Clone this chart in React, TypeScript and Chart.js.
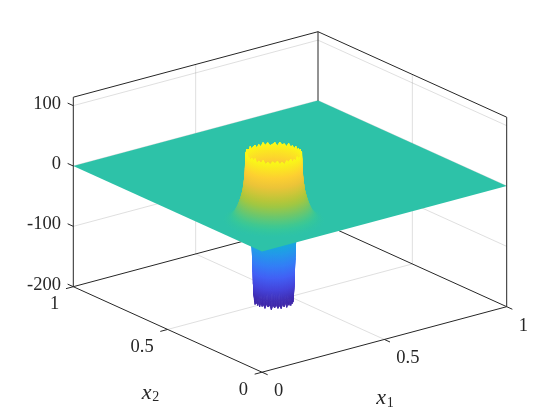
import React, { useEffect, useRef } from "react";
import { Chart, registerables, ScatterController } from "chart.js";

Chart.register(...registerables);

// ---------- values ----------
const zTicks = [100, 0, -100, -200];
const zTickLabels = ["100", "0", "-100", "-200"];
const x1Ticks = [0, 0.5, 1];
const x1TickLabels = ["0", "0.5", "1"];
const x2Ticks = [0, 0.5, 1];
const x2TickLabels = ["0", "0.5", "1"];
const zMin = -200;
const zMax = 114;

// centre of the feature on the (x1, x2) plane
const centreX1 = 0.21;
const centreX2 = 0.21;

// radial profile, from the flat plane inward over the rim and down the inner wall
const ringRadius = [
  0.165, 0.155, 0.145, 0.135, 0.127, 0.12, 0.114, 0.109, 0.104, 0.1, 0.097, 0.094, 0.092,
  0.091, 0.09, 0.086, 0.082, 0.079, 0.076, 0.074, 0.072, 0.07, 0.0685, 0.067, 0.066, 0.064, 0.062,
];
const ringHeight = [
  0, 1, 3, 7, 12, 18, 25, 32, 40, 48, 58, 70, 85, 100, 110, 100, 85, 60, 30, 0, -25, -45, -65,
  -85, -105, -123, -133,
];
const topRingIndex = 14;
const bottomRingIndex = 26;

// rim roughness round the circle, one value per 5 degrees
const topRimJag = [
  2, -3, 1, -2, 3, -3, 1, -1, 3, -4, 2, -1, -3, 2, -2, 3, -3, 1, -4, 2, 0, -3, 3, -2, 1, -3, 3, -1,
  1, -4, 2, -3, 3, -2, 0, -3, 2, -1, 3, -4, 1, -2, 3, -3, 1, -3, 2, -1, 3, -3, 1, -4, 2, -1, 3, -3,
  1, -3, 3, -2, 0, -4, 2, -1, 3, -3, 1, -2, 2, -3, 1, -3,
];
const bottomRimJag = [
  -1, 2, -2, 1, -4, 2, -1, 2, -4, 1, -2, 3, -1, -4, 2, -3, 2, -5, 1, -2, 3, -3, 1, -4, 2, -1, 2, -4,
  1, -3, 2, -5, 1, -2, 3, -3, 1, -4, 2, -2, 1, -4, 3, -1, 2, -5, 1, -2, 2, -3, 1, -4, 2, -2, 3, -4,
  1, -2, 2, -4, 1, -3, 2, -1, 2, -4, 1, -3, 2, -3, 1, -2,
];

// parula colour map stops
const parulaStops = [
  [0.2422, 0.1504, 0.6603],
  [0.281, 0.3228, 0.9579],
  [0.1786, 0.5289, 0.9682],
  [0.0689, 0.6948, 0.8394],
  [0.2161, 0.7843, 0.5923],
  [0.672, 0.7793, 0.2227],
  [0.997, 0.7659, 0.2199],
  [0.9769, 0.9839, 0.0805],
];
const colourMin = -128;
const colourMax = 112;

// ---------- the 3-D view, an orthographic projection ----------
const originPx = 262;
const originPy = 372.2;
const x1Vec = [244.7, -65.5];
const x2Vec = [-188.7, -85.5];
const zScale = 0.6035;

type P = { x: number; y: number };
const project = (a: number, b: number, z: number): P => ({
  x: originPx + x1Vec[0] * a + x2Vec[0] * b,
  y: originPy + x1Vec[1] * a + x2Vec[1] * b - (z - zMin) * zScale,
});
const depth = (a: number, b: number, z: number) => -0.572 * a - 0.745 * b + 0.000726 * z;

const colourAt = (z: number) => {
  const t = Math.max(0, Math.min(1, (z - colourMin) / (colourMax - colourMin))) * (parulaStops.length - 1);
  const i = Math.min(parulaStops.length - 2, Math.floor(t));
  const f = t - i;
  const c = parulaStops[i].map((v, k) => Math.round(255 * (v + (parulaStops[i + 1][k] - v) * f)));
  return `rgb(${c[0]},${c[1]},${c[2]})`;
};

// ---------- surface mesh ----------
const angleCount = topRimJag.length;
const meshPoints: P[] = [];
const meshHeight: number[] = [];
const meshA: number[] = [];
const meshB: number[] = [];
ringRadius.forEach((r, i) => {
  for (let j = 0; j < angleCount; j++) {
    const th = (2 * Math.PI * j) / angleCount;
    let z = ringHeight[i];
    if (i === topRingIndex) z += topRimJag[j];
    if (i === bottomRingIndex) z += bottomRimJag[j];
    const a = centreX1 + r * Math.cos(th);
    const b = centreX2 + r * Math.sin(th);
    meshPoints.push(project(a, b, z));
    meshHeight.push(z);
    meshA.push(a);
    meshB.push(b);
  }
});
const planeStart = meshPoints.length;
[
  [0, 0],
  [1, 0],
  [1, 1],
  [0, 1],
].forEach(([a, b]) => meshPoints.push(project(a, b, 0)));

type Quad = { v: number[]; d: number; low: boolean };
const meshQuads: Quad[] = [];
for (let i = 0; i < ringRadius.length - 1; i++) {
  for (let j = 0; j < angleCount; j++) {
    const j2 = (j + 1) % angleCount;
    const v = [i * angleCount + j, i * angleCount + j2, (i + 1) * angleCount + j2, (i + 1) * angleCount + j];
    const mean = (arr: number[]) => v.reduce((s, k) => s + arr[k], 0) / 4;
    const mz = mean(meshHeight);
    meshQuads.push({ v, d: depth(mean(meshA), mean(meshB), mz), low: i > topRingIndex && mz < 0 });
  }
}
meshQuads.sort((p, q) => p.d - q.d);

class SurfaceController extends ScatterController {
  static id = "surface3d";
  static defaults = ScatterController.defaults;
  static overrides = ScatterController.overrides;
  draw() {
    const ctx: CanvasRenderingContext2D = (this as any).chart.ctx;
    const pts: P[] = (this as any).getMeta().data;
    const paintQuad = (q: Quad) => {
      const [a, b, c, d] = q.v;
      const z0 = (meshHeight[a] + meshHeight[b]) / 2;
      const z1 = (meshHeight[c] + meshHeight[d]) / 2;
      const x0 = (pts[a].x + pts[b].x) / 2;
      const y0 = (pts[a].y + pts[b].y) / 2;
      const x1 = (pts[c].x + pts[d].x) / 2;
      const y1 = (pts[c].y + pts[d].y) / 2;
      let style: any = colourAt((z0 + z1) / 2);
      if (Math.hypot(x1 - x0, y1 - y0) > 0.05) {
        const g = ctx.createLinearGradient(x0, y0, x1, y1);
        g.addColorStop(0, colourAt(z0));
        g.addColorStop(1, colourAt(z1));
        style = g;
      }
      ctx.fillStyle = style;
      ctx.strokeStyle = style;
      ctx.beginPath();
      ctx.moveTo(pts[a].x, pts[a].y);
      ctx.lineTo(pts[b].x, pts[b].y);
      ctx.lineTo(pts[c].x, pts[c].y);
      ctx.lineTo(pts[d].x, pts[d].y);
      ctx.closePath();
      ctx.fill();
      ctx.stroke();
    };
    ctx.save();
    ctx.lineWidth = 0.8;
    ctx.lineJoin = "round";
    meshQuads.filter((q) => q.low).forEach(paintQuad);
    // flat plane, then everything that rises out of it
    ctx.fillStyle = colourAt(0);
    ctx.beginPath();
    for (let k = 0; k < 4; k++) {
      const p = pts[planeStart + k];
      if (k === 0) ctx.moveTo(p.x, p.y);
      else ctx.lineTo(p.x, p.y);
    }
    ctx.closePath();
    ctx.fill();
    meshQuads.filter((q) => !q.low).forEach(paintQuad);
    ctx.restore();
  }
}
Chart.register(SurfaceController as any);

// ---------- box, grid and axes ----------
const inkColour = "#262626";
const gridColour = "rgba(38,38,38,0.15)";
const seg = (p: P, q: P, color: string, order: number, width = 1) => ({
  type: "scatter" as const,
  data: [p, q],
  showLine: true,
  pointRadius: 0,
  borderColor: color,
  borderWidth: width,
  order,
});
const gridSegments = [
  ...zTicks.slice(0, 3).flatMap((z) => [
    seg(project(0, 1, z), project(1, 1, z), gridColour, 5),
    seg(project(1, 1, z), project(1, 0, z), gridColour, 5),
  ]),
  ...x1Ticks.slice(1, 2).flatMap((v) => [
    seg(project(v, 1, zMin), project(v, 1, zMax), gridColour, 5),
    seg(project(v, 0, zMin), project(v, 1, zMin), gridColour, 5),
  ]),
  ...x2Ticks.slice(1, 2).flatMap((v) => [
    seg(project(1, v, zMin), project(1, v, zMax), gridColour, 5),
    seg(project(0, v, zMin), project(1, v, zMin), gridColour, 5),
  ]),
];
const backBox = [
  seg(project(0, 1, zMax), project(1, 1, zMax), inkColour, 4),
  seg(project(1, 1, zMax), project(1, 0, zMax), inkColour, 4),
  seg(project(1, 1, zMin), project(1, 1, zMax), inkColour, 4),
  seg(project(0, 1, zMin), project(1, 1, zMin), inkColour, 4),
  seg(project(1, 1, zMin), project(1, 0, zMin), inkColour, 4),
];
const tickX1 = 0.03;
const frontAxes = [
  seg(project(0, 1, zMin), project(0, 1, zMax), inkColour, 1),
  seg(project(1, 0, zMin), project(1, 0, zMax), inkColour, 1),
  seg(project(0, 0, zMin), project(0, 1, zMin), inkColour, 1),
  seg(project(0, 0, zMin), project(1, 0, zMin), inkColour, 1),
  ...zTicks.map((z) => seg(project(0, 1, z), project(0, 1 + tickX1, z), inkColour, 1)),
  ...x1Ticks.map((v) => seg(project(v, 0, zMin), project(v, -tickX1, zMin), inkColour, 1)),
  ...x2Ticks.map((v) => seg(project(0, v, zMin), project(-tickX1, v, zMin), inkColour, 1)),
];

const labelPlugin = {
  id: "axisText",
  afterDraw(chart: any) {
    const { ctx, scales } = chart;
    const at = (p: P) => ({ x: scales.x.getPixelForValue(p.x), y: scales.y.getPixelForValue(p.y) });
    ctx.save();
    ctx.fillStyle = inkColour;
    ctx.textBaseline = "middle";
    ctx.font = '18.5px "Liberation Serif"';
    ctx.textAlign = "right";
    zTicks.forEach((z, i) => {
      const p = at(project(0, 1, z));
      ctx.fillText(zTickLabels[i], p.x - 12.3, p.y - 2);
    });
    x2Ticks.forEach((v, i) => {
      const p = at(project(0, v, zMin));
      ctx.fillText(x2TickLabels[i], p.x - 14, p.y + 17.8);
    });
    ctx.textAlign = "left";
    x1Ticks.forEach((v, i) => {
      const p = at(project(v, 0, zMin));
      ctx.fillText(x1TickLabels[i], p.x + 12, p.y + 19);
    });
    const title = (q: P, sub: string, dx: number) => {
      const p = at(q);
      ctx.textAlign = "left";
      ctx.font = 'italic 22px "Liberation Serif"';
      ctx.fillText("x", p.x + dx, p.y);
      ctx.font = '14px "Liberation Serif"';
      ctx.fillText(sub, p.x + dx + 10.5, p.y + 5);
    };
    title(project(0.5, 0, zMin - 97), "1", -8);
    title(project(0, 0.5, zMin - 105), "2", -26);
    ctx.restore();
  },
};

export default function App() {
  const ref = useRef<HTMLCanvasElement>(null);
  useEffect(() => {
    if (!ref.current) return;
    const chart = new Chart(ref.current, {
      type: "scatter",
      data: {
        datasets: [
          ...gridSegments,
          ...backBox,
          {
            type: "surface3d",
            label: "surface",
            data: meshPoints,
            pointRadius: 0,
            showLine: false,
            order: 3,
          },
          ...frontAxes,
        ] as any,
      },
      options: {
        animation: false,
        responsive: false,
        events: [],
        layout: { padding: 0 },
        plugins: { legend: { display: false }, tooltip: { enabled: false }, title: { display: false } },
        scales: {
          x: { type: "linear", min: 0, max: 560, display: false },
          y: { type: "linear", min: 0, max: 420, reverse: true, display: false },
        },
      },
      plugins: [labelPlugin],
    });
    return () => chart.destroy();
  }, []);
  return (
    <canvas
      ref={ref}
      width={560}
      height={420}
      style={{ position: "absolute", left: 0, top: 0, display: "block", background: "#fff" }}
    />
  );
}
